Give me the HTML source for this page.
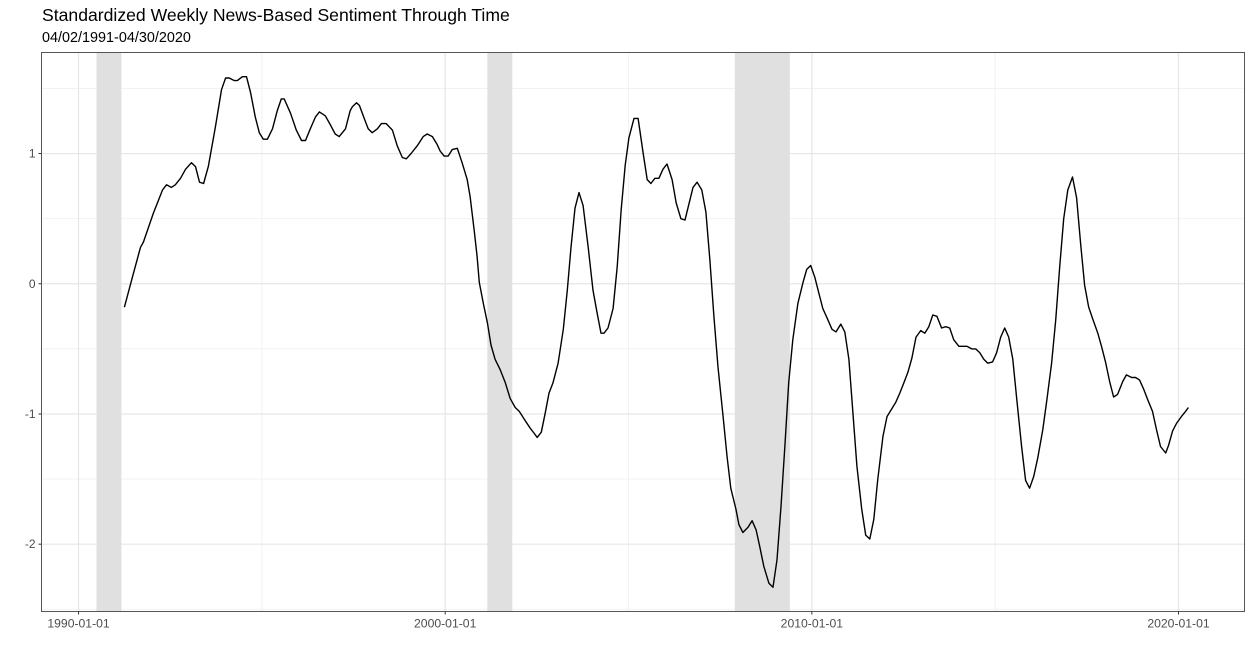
<!DOCTYPE html>
<html><head><meta charset="utf-8"><style>
html,body{margin:0;padding:0;background:#fff;}
svg{display:block;font-family:"Liberation Sans",Arial,sans-serif;}
</style></head><body>
<svg id="chart" width="1252" height="655" viewBox="0 0 1252 655" xmlns="http://www.w3.org/2000/svg">
<text x="42" y="21" font-size="17.6" fill="#000">Standardized Weekly News-Based Sentiment Through Time</text>
<text x="42" y="42" font-size="14.4" fill="#000">04/02/1991-04/30/2020</text>
<g id="plot"></g>
</svg>
<script>
const years = [1991.25,1991.47,1991.69,1991.77,1992.04,1992.29,1992.40,1992.53,1992.64,1992.78,1992.92,1993.08,1993.19,1993.30,1993.41,1993.54,1993.73,1993.90,1994.01,1994.11,1994.25,1994.33,1994.47,1994.58,1994.69,1994.82,1994.93,1995.04,1995.15,1995.29,1995.42,1995.53,1995.61,1995.78,1995.94,1996.08,1996.19,1996.32,1996.46,1996.57,1996.73,1996.87,1997.00,1997.11,1997.28,1997.41,1997.47,1997.58,1997.66,1997.79,1997.90,1998.01,1998.15,1998.26,1998.39,1998.56,1998.69,1998.83,1998.94,1999.07,1999.24,1999.40,1999.51,1999.65,1999.78,1999.86,1999.97,2000.08,2000.19,2000.33,2000.46,2000.60,2000.68,2000.79,2000.87,2000.93,2001.04,2001.15,2001.25,2001.36,2001.50,2001.64,2001.77,2001.91,2002.02,2002.18,2002.32,2002.43,2002.51,2002.62,2002.73,2002.83,2002.94,2003.08,2003.22,2003.33,2003.43,2003.54,2003.65,2003.76,2003.90,2004.03,2004.14,2004.25,2004.33,2004.44,2004.58,2004.69,2004.80,2004.91,2005.01,2005.15,2005.26,2005.40,2005.51,2005.61,2005.72,2005.83,2005.94,2006.05,2006.19,2006.30,2006.43,2006.54,2006.62,2006.76,2006.87,2007.00,2007.11,2007.22,2007.33,2007.44,2007.58,2007.69,2007.79,2007.93,2008.01,2008.12,2008.26,2008.37,2008.48,2008.58,2008.69,2008.83,2008.94,2009.05,2009.16,2009.27,2009.37,2009.48,2009.62,2009.76,2009.86,2009.97,2010.08,2010.19,2010.30,2010.41,2010.55,2010.66,2010.79,2010.90,2011.01,2011.12,2011.23,2011.36,2011.47,2011.58,2011.69,2011.80,2011.94,2012.05,2012.18,2012.29,2012.40,2012.51,2012.62,2012.73,2012.84,2012.97,2013.08,2013.19,2013.30,2013.41,2013.54,2013.65,2013.76,2013.87,2014.01,2014.12,2014.23,2014.36,2014.47,2014.58,2014.69,2014.80,2014.93,2015.04,2015.15,2015.26,2015.37,2015.48,2015.59,2015.72,2015.83,2015.94,2016.05,2016.16,2016.30,2016.41,2016.54,2016.65,2016.76,2016.87,2016.98,2017.11,2017.22,2017.33,2017.44,2017.55,2017.66,2017.80,2017.90,2018.01,2018.12,2018.23,2018.34,2018.48,2018.58,2018.72,2018.83,2018.94,2019.05,2019.16,2019.29,2019.40,2019.51,2019.65,2019.73,2019.84,2019.95,2020.08,2020.19,2020.27];
const sentiment = [-0.18,0.05,0.28,0.32,0.54,0.72,0.76,0.74,0.76,0.81,0.88,0.93,0.90,0.78,0.77,0.90,1.20,1.49,1.58,1.58,1.56,1.56,1.59,1.59,1.47,1.28,1.16,1.11,1.11,1.19,1.33,1.42,1.42,1.31,1.18,1.10,1.10,1.19,1.28,1.32,1.29,1.22,1.15,1.13,1.19,1.33,1.36,1.39,1.37,1.27,1.19,1.16,1.19,1.23,1.23,1.18,1.06,0.97,0.96,1.00,1.06,1.13,1.15,1.13,1.07,1.02,0.98,0.98,1.03,1.04,0.93,0.80,0.67,0.41,0.21,0.01,-0.15,-0.30,-0.47,-0.58,-0.66,-0.76,-0.88,-0.95,-0.98,-1.05,-1.11,-1.15,-1.18,-1.14,-0.99,-0.84,-0.76,-0.61,-0.35,-0.05,0.28,0.58,0.70,0.60,0.28,-0.05,-0.22,-0.38,-0.38,-0.34,-0.19,0.13,0.57,0.91,1.12,1.27,1.27,1.00,0.80,0.77,0.81,0.81,0.88,0.92,0.80,0.62,0.50,0.49,0.58,0.74,0.78,0.72,0.55,0.18,-0.25,-0.64,-1.02,-1.33,-1.57,-1.73,-1.85,-1.91,-1.87,-1.82,-1.89,-2.02,-2.17,-2.30,-2.33,-2.12,-1.71,-1.22,-0.76,-0.43,-0.15,0.01,0.11,0.14,0.05,-0.07,-0.19,-0.26,-0.35,-0.37,-0.31,-0.37,-0.58,-0.99,-1.40,-1.73,-1.93,-1.96,-1.81,-1.50,-1.17,-1.02,-0.96,-0.91,-0.84,-0.76,-0.68,-0.57,-0.41,-0.36,-0.38,-0.33,-0.24,-0.25,-0.34,-0.33,-0.34,-0.43,-0.48,-0.48,-0.48,-0.50,-0.50,-0.53,-0.58,-0.61,-0.60,-0.53,-0.41,-0.34,-0.41,-0.58,-0.89,-1.25,-1.51,-1.57,-1.48,-1.34,-1.12,-0.89,-0.61,-0.28,0.13,0.50,0.72,0.82,0.66,0.31,-0.01,-0.18,-0.27,-0.38,-0.48,-0.60,-0.75,-0.87,-0.85,-0.75,-0.70,-0.72,-0.72,-0.74,-0.81,-0.89,-0.98,-1.12,-1.25,-1.30,-1.24,-1.13,-1.07,-1.02,-0.98,-0.95];
const recessionStart = [1990.49, 2001.15, 2007.90];
const recessionEnd = [1991.17, 2001.83, 2009.40];
const yTicks = [1, 0, -1, -2];
const yTickLabels = ["1", "0", "-1", "-2"];
const yMinor = [1.5, 0.5, -0.5, -1.5, -2.5];
const xTicks = [1990, 2000, 2010, 2020];
const xTickLabels = ["1990-01-01", "2000-01-01", "2010-01-01", "2020-01-01"];
const xMinor = [1995, 2005, 2015];

const L=41.5, R=1244.5, T=52.5, B=611.5;
const xMin=1988.99, xMax=2021.80, yMin=-2.517, yMax=1.776;
const xs = v => L + (v - xMin) / (xMax - xMin) * (R - L);
const ys = v => B - (v - yMin) / (yMax - yMin) * (B - T);
const NS="http://www.w3.org/2000/svg";
const g=document.getElementById('plot');
function mk(tag, attrs){const e=document.createElementNS(NS,tag);for(const k in attrs)e.setAttribute(k,attrs[k]);g.appendChild(e);return e;}

mk('rect',{x:L,y:T,width:R-L,height:B-T,fill:'#fff'});
yMinor.forEach(v=>{const y=ys(v); if(y>T&&y<B){const e=mk('line',{x1:L,x2:R,y1:y,y2:y,stroke:'#f0f0f0','stroke-width':0.9});

}});
xMinor.forEach(v=>{const x=xs(v);const e=mk('line',{x1:x,x2:x,y1:T,y2:B,stroke:'#f0f0f0','stroke-width':0.9});

});
yTicks.forEach(v=>{const y=ys(v);const e=mk('line',{x1:L,x2:R,y1:y,y2:y,stroke:'#e6e6e6','stroke-width':1.2});

});
xTicks.forEach(v=>{const x=xs(v);const e=mk('line',{x1:x,x2:x,y1:T,y2:B,stroke:'#e6e6e6','stroke-width':1.2});

});
recessionStart.forEach((s,i)=>{const e=mk('rect',{x:xs(s),y:T,width:xs(recessionEnd[i])-xs(s),height:B-T,fill:'#e0e0e0'});

});
let d='';
years.forEach((yr,i)=>{d+=(i?'L':'M')+xs(yr).toFixed(1)+','+ys(sentiment[i]).toFixed(1);});
const line=mk('path',{d:d,fill:'none',stroke:'#000','stroke-width':1.4,'stroke-linejoin':'round'});


const border=mk('rect',{x:L,y:T,width:R-L,height:B-T,fill:'none',stroke:'#555','stroke-width':1});


yTicks.forEach((v,i)=>{const y=ys(v);
mk('line',{x1:L-3,x2:L,y1:y,y2:y,stroke:'#333','stroke-width':1});
const t=mk('text',{x:L-6,y:y+4,'text-anchor':'end','font-size':12,fill:'#4d4d4d'});t.textContent=yTickLabels[i];

});
xTicks.forEach((v,i)=>{const x=xs(v);
mk('line',{x1:x,x2:x,y1:B,y2:B+3,stroke:'#333','stroke-width':1});
const t=mk('text',{x:x,y:B+16,'text-anchor':'middle','font-size':12.2,fill:'#4d4d4d'});t.textContent=xTickLabels[i];

});
</script>
</body></html>
